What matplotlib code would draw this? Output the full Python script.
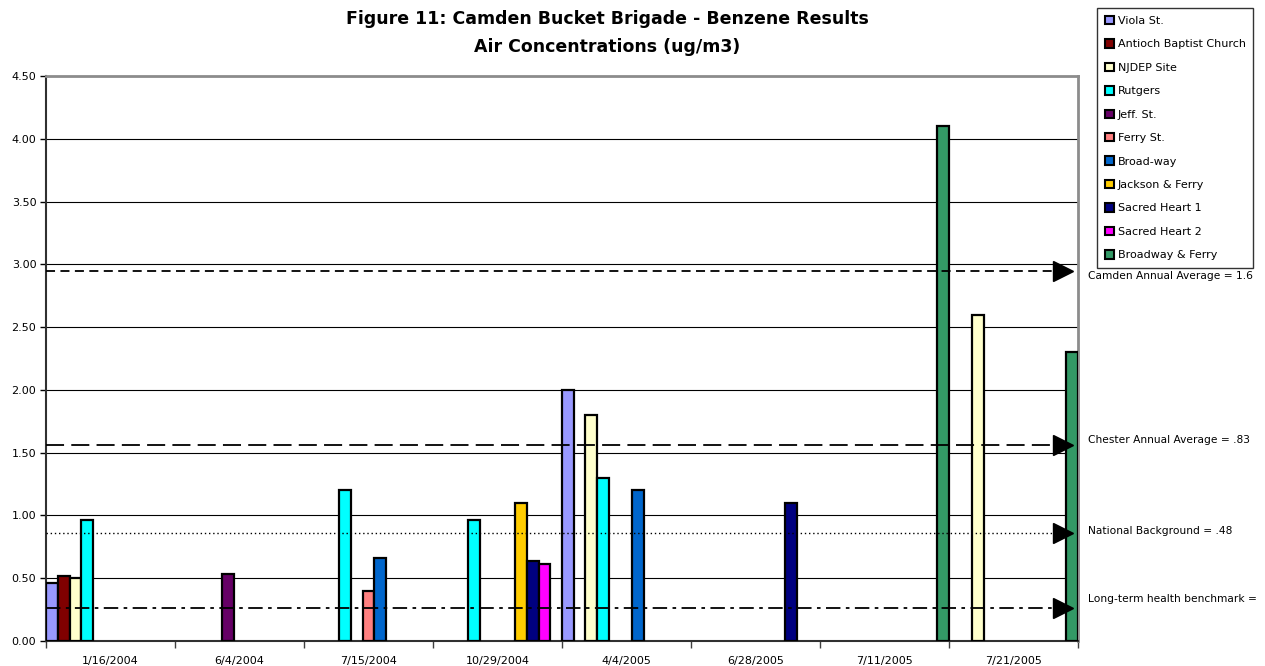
import matplotlib
matplotlib.use("Agg")

import numpy as np
import matplotlib.pyplot as plt
from matplotlib.patches import Patch
from matplotlib.ticker import FixedLocator, FormatStrFormatter

# =======================
# Data
# =======================

dates = ["1/16/2004", "6/4/2004", "7/15/2004", "10/29/2004",
         "4/4/2005", "6/28/2005", "7/11/2005", "7/21/2005"]

sites = ["Viola St.", "Antioch Baptist Church", "NJDEP Site", "Rutgers",
         "Jeff. St.", "Ferry St.", "Broad-way", "Jackson & Ferry",
         "Sacred Heart 1", "Sacred Heart 2", "Broadway & Ferry"]

site_colors = ["#9999FF", "#800000", "#FFFFCC", "#00FFFF", "#660066", "#FF8080",
               "#0066CC", "#FFCC00", "#000080", "#FF00FF", "#339966"]

nan = np.nan
# one list per site, one value per date
viola      = [0.46, nan, nan, nan, 2.00, nan, nan, nan]
antioch    = [0.52, nan, nan, nan, nan, nan, nan, nan]
njdep      = [0.50, nan, nan, nan, 1.80, nan, nan, 2.60]
rutgers    = [0.96, nan, 1.20, 0.96, 1.30, nan, nan, nan]
jeff       = [nan, 0.53, nan, nan, nan, nan, nan, nan]
ferry      = [nan, nan, 0.40, nan, nan, nan, nan, nan]
broadway   = [nan, nan, 0.66, nan, 1.20, nan, nan, nan]
jackson    = [nan, nan, nan, 1.10, nan, nan, nan, nan]
sacred1    = [nan, nan, nan, 0.64, nan, 1.10, nan, nan]
sacred2    = [nan, nan, nan, 0.61, nan, nan, nan, nan]
bway_ferry = [nan, nan, nan, nan, nan, nan, 4.10, 2.30]

series = [viola, antioch, njdep, rutgers, jeff, ferry, broadway,
          jackson, sacred1, sacred2, bway_ferry]

ref_labels = ["Camden Annual Average = 1.6", "Chester Annual Average = .83",
              "National Background = .48", "Long-term health benchmark ="]
ref_values = [2.95, 1.56, 0.86, 0.26]
ref_styles = [(0, (5, 3)), (0, (10, 4)), (0, (1, 2)), (0, (8, 3, 2, 3))]
ref_widths = [1.3, 1.3, 1.0, 1.3]
ref_text_offsets = [-0.045, 0.04, 0.02, 0.075]

# =======================
# Figure
# =======================

fig = plt.figure(figsize=(12.65, 6.66), dpi=100)
ax = fig.add_axes([0.0364, 0.0375, 0.8158, 0.8484])

n_groups = len(dates)
n_sites = len(sites)
bar_w = 1.0 / n_sites

for i, (vals, name, col) in enumerate(zip(series, sites, site_colors)):
    x = np.arange(n_groups) - 0.5 + (i + 0.5) * bar_w
    v = np.array(vals, dtype=float)
    ok = ~np.isnan(v)
    ax.bar(x[ok], v[ok], width=bar_w, color=col, edgecolor="black",
           linewidth=1.6, zorder=3)

ax.set_xlim(-0.5, n_groups - 0.5)
ax.set_ylim(0, 4.5)

# gridlines
ax.set_yticks(np.arange(0, 4.51, 0.5))
ax.yaxis.set_major_formatter(FormatStrFormatter("%.2f"))
ax.grid(axis="y", color="black", lw=0.8, zorder=1)
ax.set_axisbelow(True)

# x ticks: marks on group boundaries, labels at group centers
ax.xaxis.set_major_locator(FixedLocator(np.arange(n_groups + 1) - 0.5))
ax.xaxis.set_minor_locator(FixedLocator(np.arange(n_groups)))
ax.set_xticklabels([])
ax.set_xticklabels(dates, minor=True)
ax.tick_params(axis="x", which="major", length=5, width=1, direction="out", color="#404040")
ax.tick_params(axis="x", which="minor", length=0, pad=10.5, labelsize=8)
ax.tick_params(axis="y", length=4, width=1, direction="out", labelsize=8, pad=3)

for s in ["left", "bottom"]:
    ax.spines[s].set_color("#303030")
    ax.spines[s].set_linewidth(1.5)
for s in ["top", "right"]:
    ax.spines[s].set_color("#8c8c8c")
    ax.spines[s].set_linewidth(2)

# reference lines with arrow heads
x_end = n_groups - 0.5 - 0.19
for val, lab, ls, lw, off in zip(ref_values, ref_labels, ref_styles, ref_widths, ref_text_offsets):
    ax.plot([-0.5, x_end], [val, val], color="black", ls=ls, lw=lw, zorder=5)
    ax.plot([x_end + 0.075], [val], marker=">", ms=14, color="black",
            mec="black", zorder=6, clip_on=False)
    ax.text(1.0097, val + off, lab, transform=ax.get_yaxis_transform(),
            fontsize=7.7, va="center", ha="left", clip_on=False)

# title
fig.text(0.48, 0.972, "Figure 11: Camden Bucket Brigade - Benzene Results",
         ha="center", va="center", fontsize=12.5, weight="bold")
fig.text(0.48, 0.930, "Air Concentrations (ug/m3)",
         ha="center", va="center", fontsize=12.5, weight="bold")

# legend
handles = [Patch(facecolor=c, edgecolor="black", lw=1.5) for c in site_colors]
leg = fig.legend(handles, sites, loc="upper left", bbox_to_anchor=(0.8672, 0.988),
                 fontsize=8, frameon=True, fancybox=False, borderaxespad=0,
                 handlelength=0.8, handleheight=0.8, handletextpad=0.35,
                 labelspacing=1.2, borderpad=0.7)
leg.get_frame().set_edgecolor("black")
leg.get_frame().set_linewidth(1.0)

fig.savefig("out.png", dpi=100)
